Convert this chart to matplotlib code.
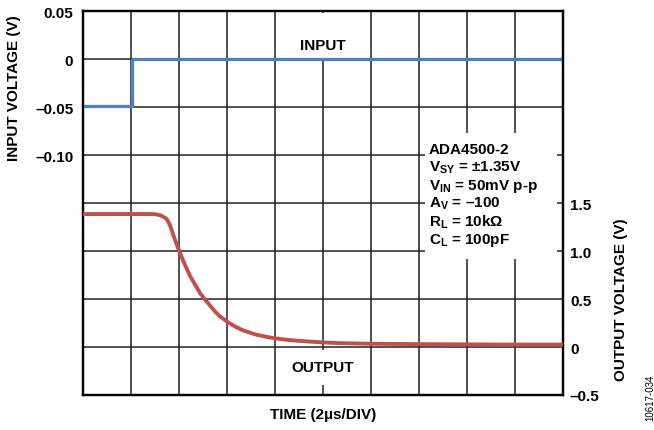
import matplotlib
matplotlib.use('Agg')
import matplotlib.pyplot as plt
from matplotlib.patches import Rectangle

plt.rcParams['font.family'] = ['Liberation Sans', 'DejaVu Sans']
plt.rcParams['font.weight'] = 'bold'
plt.rcParams['axes.labelweight'] = 'bold'
plt.rcParams['mathtext.fontset'] = 'custom'
plt.rcParams['mathtext.rm'] = 'Liberation Sans:bold'
plt.rcParams['mathtext.it'] = 'Liberation Sans:bold'
plt.rcParams['mathtext.bf'] = 'Liberation Sans:bold'

# time in divisions (2us/div)
t_in = [0, 1.02, 1.02, 10]
v_in = [-0.049, -0.049, 0.0, 0.0]

t_out = [0, 1.0, 1.45, 1.54, 1.62, 1.67, 1.74, 1.81, 1.88, 1.95, 2.02, 2.12, 2.23,
         2.34, 2.44, 2.55, 2.65, 2.75, 2.85, 2.96, 3.06, 3.2, 3.35, 3.6, 3.8, 4.0,
         4.3, 4.67, 5.0, 5.35, 6.0, 7.0, 8.0, 9.0, 10.0]
v_out = [1.385, 1.385, 1.385, 1.38, 1.37, 1.357, 1.336, 1.27, 1.17, 1.07, 0.98, 0.86,
         0.74, 0.645, 0.56, 0.49, 0.43, 0.37, 0.32, 0.28, 0.245, 0.205, 0.17, 0.13,
         0.108, 0.09, 0.072, 0.058, 0.048, 0.04, 0.034, 0.03, 0.027, 0.025, 0.025]

in_ticks = [0.05, 0, -0.05, -0.10]
in_labels = ['0.05', '0', '–0.05', '–0.10']
out_ticks = [1.5, 1.0, 0.5, 0, -0.5]
out_labels = ['1.5', '1.0', '0.5', '0', '–0.5']

conditions = ['ADA4500-2', r'V$_{SY}$ = ±1.35V', r'V$_{IN}$ = 50mV p-p',
              r'A$_{V}$ = –100', r'R$_{L}$ = 10kΩ', r'C$_{L}$ = 100pF']

fs = 11

fig = plt.figure(figsize=(6.54, 4.31), dpi=100)
ax = fig.add_axes([83 / 654, 1 - 396 / 431, 480 / 654, 384 / 431])
ax2 = ax.twinx()

ax.set_xlim(0, 10)
ax.set_ylim(-0.35, 0.05)
ax2.set_ylim(-0.5, 3.5)

ax.set_xticks(range(11))
ax.set_xticklabels([])
ax.set_yticks(in_ticks)
ax.set_yticklabels(in_labels)
ax.set_yticks([-0.15, -0.2, -0.25, -0.3], minor=True)
ax.grid(True, which='both', color='#222222', lw=1.1)
ax.tick_params(which='both', length=0, labelsize=fs, pad=7)

ax2.set_yticks(out_ticks)
ax2.set_yticklabels(out_labels)
ax2.tick_params(length=0, labelsize=fs, pad=5)

for a in (ax, ax2):
    for s in a.spines.values():
        s.set_linewidth(1.6)
        s.set_color('black')

# white areas behind the labels
for (x0, y0, w, h) in [(0.42, 0.878, 0.16, 0.118), (0.41, 0.026, 0.18, 0.091),
                       (0.7125, 0.354, 0.275, 0.328)]:
    ax.add_patch(Rectangle((x0, y0), w, h, transform=ax.transAxes,
                           facecolor='white', edgecolor='none', zorder=1.8))

ax.plot(t_in, v_in, color='#4F81BD', lw=2.3, zorder=3)
ax2.plot(t_out, v_out, color='#C0504D', lw=2.8, zorder=3, solid_joinstyle='round')

ax.text(5, 0.015, 'INPUT', ha='center', va='center', fontsize=fs, zorder=4)
ax2.text(5, -0.21, 'OUTPUT', ha='center', va='center', fontsize=fs, zorder=4)

for i, line in enumerate(conditions):
    ax.text(0.721, 0.64 - i * 0.0469, line, transform=ax.transAxes,
            ha='left', va='center', fontsize=fs, zorder=4)

ax.set_ylabel('INPUT VOLTAGE (V)', fontsize=fs)
ax.yaxis.set_label_coords(-(83 - 21) / 480, (396 - 88) / 384)
ax2.set_ylabel('OUTPUT VOLTAGE (V)', fontsize=fs, rotation=90)
ax2.yaxis.set_label_coords((614 - 83) / 480, (396 - 300) / 384)
ax.set_xlabel('TIME (2µs/DIV)', fontsize=fs)
ax.xaxis.set_label_coords(0.5, -(408 - 396) / 384)

fig.text(650 / 654, 1 - 398 / 431, '10617-034', rotation=90, ha='center',
         va='center', fontsize=7, fontweight='normal')

fig.savefig('out.png', dpi=100)
